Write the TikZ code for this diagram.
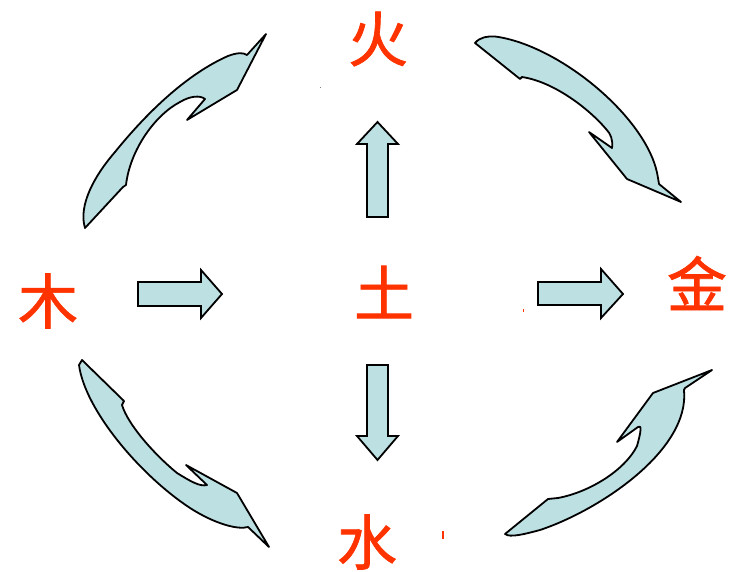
\documentclass[tikz,border=0pt]{standalone}
\usepackage{fontspec}
\newfontfamily\cjk{Noto Sans CJK SC}[FakeBold=1.2]
\definecolor{elemred}{RGB}{255,51,0}
\definecolor{arrowfill}{RGB}{189,224,227}
\begin{document}
\begin{tikzpicture}[x=1pt,y=-1pt,
  elem/.style={text=elemred,font=\cjk\fontsize{60}{60}\selectfont,inner sep=0pt},
  blockarrow/.style={draw=black,fill=arrowfill,line width=1.8pt,line join=miter},
  curvedarrow/.style={draw=black,fill=arrowfill,line width=1.8pt,line join=round}]
\useasboundingbox (0,0) rectangle (729,572);
% element nodes
\node[elem] (huo) at (378,39) {火};
\node[elem] (mu) at (48,301) {木};
\node[elem] (tu) at (384,292) {土};
\node[elem] (jin) at (697,283) {金};
\node[elem] (shui) at (367,542) {水};
% block arrows from earth
\path[blockarrow] (138,282) -- (201,282) -- (201,270) -- (222,294) -- (201,318) -- (201,306) -- (138,306) -- cycle;
\path[blockarrow] (538,282) -- (601,282) -- (601,269) -- (623,294) -- (601,318) -- (601,305) -- (538,305) -- cycle;
\path[blockarrow] (367,217) -- (367,144) -- (357,144) -- (377.5,122) -- (398,144) -- (388,144) -- (388,217) -- cycle;
\path[blockarrow] (367,365) -- (388,365) -- (388,436) -- (398,436) -- (377.5,460) -- (357,436) -- (367,436) -- cycle;
% curved arrows
% wood -> fire
\path[curvedarrow] (85,228) .. controls (78,205) and (95,175) .. (115,152)
  .. controls (145,115) and (185,75) .. (228,56)
  .. controls (236,53) and (243,52) .. (247,55) -- (266,34) -- (237,90) -- (187,120) -- (205,99)
  .. controls (200,95) and (190,96) .. (180,102)
  .. controls (155,115) and (130,150) .. (126,185) -- (123,187) -- cycle;
% fire -> metal
\path[curvedarrow] (475,43) .. controls (480,37) and (488,36) .. (495,36.5)
  .. controls (560,45) and (650,120) .. (658,178) -- (659,184) -- (681,202) -- (627,179) -- (589,132) -- (612,148)
  .. controls (613,140) and (611,134) .. (606,129)
  .. controls (590,110) and (555,82) .. (522,77) -- (520,79) -- cycle;
% wood -> water
\path[curvedarrow] (82,360) -- (79,365) .. controls (85,410) and (140,475) .. (190,508)
  .. controls (215,524) and (238,530) .. (248,527) -- (269,547) -- (237,493) -- (186,465) -- (207,485)
  .. controls (200,487) and (190,481) .. (177,473)
  .. controls (155,455) and (128,425) .. (122,405) -- (124,401) -- cycle;
% water -> metal
\path[curvedarrow] (505,534) .. controls (510,538) and (525,534) .. (540,530)
  .. controls (600,510) and (690,450) .. (684,390) -- (685,388) -- (712,370) -- (653,393) -- (617,442) -- (638,427)
  .. controls (642,424) and (641,432) .. (637,446)
  .. controls (625,470) and (590,492) .. (558,498) -- (548,499) -- cycle;
% small stray marks
\fill[elemred] (441.5,531) rectangle (444,539);
\fill[elemred] (522.5,309.5) rectangle (523.5,312.5);
\fill[gray] (319.5,87.5) rectangle (320.5,88.5);
\end{tikzpicture}
\end{document}
